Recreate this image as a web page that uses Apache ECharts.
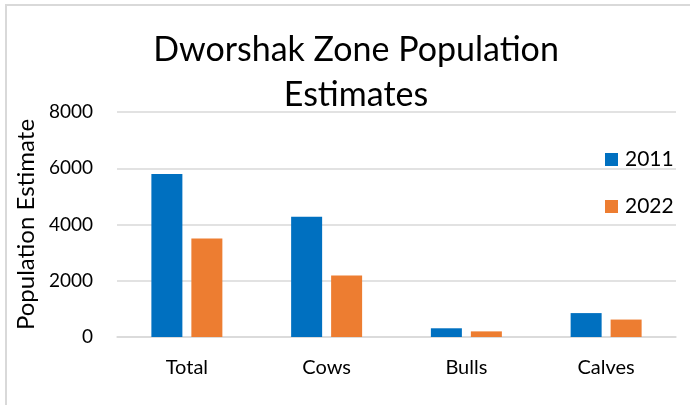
<!DOCTYPE html>
<html>
<head>
<meta charset="utf-8">
<script src="https://cdn.jsdelivr.net/npm/echarts@6/dist/echarts.min.js"></script>
<style>
  html, body { margin: 0; padding: 0; background: #fff; }
  .frame {
    position: absolute; left: 5px; top: 4px; width: 700px; height: 420px;
    border-left: 2px solid #d9d9d9; border-top: 2px solid #d9d9d9;
  }
  #chart { position: absolute; left: 0; top: 0; width: 690px; height: 405px; }
</style>
</head>
<body>
<div class="frame"></div>
<div id="chart"></div>
<script>
var categories = ['Total', 'Cows', 'Bulls', 'Calves']
var pop2011 = [5800, 4280, 310, 850]
var pop2022 = [3500, 2190, 200, 620]
var yTicks = [0, 2000, 4000, 6000, 8000]

var font = 'Lato, "Open Sans", sans-serif'
var chart = echarts.init(document.getElementById('chart'))
var option = {
  animation: false,
  color: ['#0070c0', '#ed7d31'],
  title: {
    text: 'Dworshak Zone Population\nEstimates',
    left: 351,
    top: 23,
    textAlign: 'center',
    textStyle: {
      fontFamily: font,
      fontWeight: 'normal',
      fontSize: 34,
      lineHeight: 45,
      color: '#000'
    }
  },
  legend: {
    orient: 'vertical',
    left: 600,
    top: 144,
    itemWidth: 13,
    itemHeight: 13,
    itemGap: 26,
    icon: 'rect',
    textStyle: { fontFamily: font, fontSize: 21, color: '#000', lineHeight: 20, padding: [0, 0, 0, 2] },
    data: ['2011', '2022']
  },
  grid: {
    left: 117,
    right: 14,
    top: 112,
    bottom: 68
  },
  xAxis: {
    type: 'category',
    data: categories,
    axisTick: { show: false },
    axisLine: { lineStyle: { color: '#d9d9d9', width: 1.5 } },
    axisLabel: {
      color: '#000',
      fontFamily: font,
      fontSize: 20,
      margin: 21
    }
  },
  yAxis: {
    type: 'value',
    min: yTicks[0],
    max: yTicks[yTicks.length - 1],
    interval: 2000,
    name: 'Population Estimate',
    nameLocation: 'middle',
    nameRotate: 90,
    nameGap: 78,
    nameTextStyle: { fontFamily: font, fontSize: 24, color: '#000' },
    axisLabel: {
      color: '#000',
      fontFamily: font,
      fontSize: 19,
      margin: 24,
      formatter: function (v) { return String(v) }
    },
    splitLine: { lineStyle: { color: '#d9d9d9', width: 1.5 } }
  },
  series: [
    {
      name: '2011',
      type: 'bar',
      barWidth: 31,
      barGap: '29%',
      data: pop2011
    },
    {
      name: '2022',
      type: 'bar',
      barWidth: 31,
      data: pop2022
    }
  ]
}
chart.setOption(option)
</script>
</body>
</html>
